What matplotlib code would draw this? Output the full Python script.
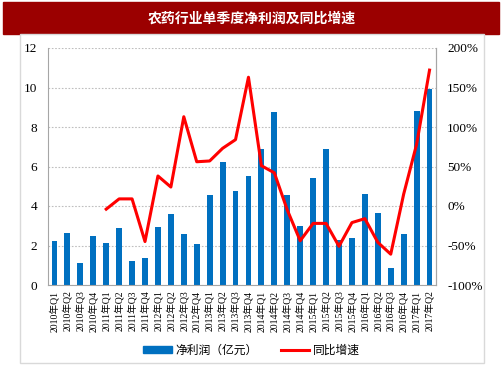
import matplotlib
matplotlib.use("Agg")
import matplotlib.pyplot as plt
from matplotlib.patches import Rectangle
from matplotlib.lines import Line2D
from matplotlib.ticker import FuncFormatter
import numpy as np

# quarters 2010Q1 .. 2017Q2
quarters = [f"{y}年Q{q}" for y in range(2010, 2018) for q in range(1, 5)][:30]

# net profit per quarter (100m yuan)
profit = [2.23, 2.64, 1.10, 2.48, 2.11, 2.87, 1.22, 1.35,
          2.92, 3.58, 2.60, 2.08, 4.56, 6.22, 4.78, 5.53,
          6.90, 8.77, 4.56, 3.01, 5.42, 6.90, 2.28, 2.38,
          4.61, 3.63, 0.85, 2.60, 8.79, 9.92]

# yoy growth (%), no value for 2010
growth = [np.nan] * 4 + [-4, 9, 9, -45,
                         38, 24, 113, 56, 57, 73, 84, 163,
                         51, 42, -5, -44, -22, -22, -51, -21,
                         -16, -46, -61, 15, 78, 172]

cjk = ["Noto Sans CJK SC", "DejaVu Sans"]
serif = ["Liberation Serif", "Noto Sans CJK SC"]

fig = plt.figure(figsize=(5.03, 3.78), dpi=100)

# title bar + outer panel
fig.patches.append(Rectangle((3 / 503, 1 - 34 / 378), 496 / 503, 32 / 378,
                             transform=fig.transFigure, color="#9B0000", zorder=-2))
fig.patches.append(Rectangle((20 / 503, 1 - 363 / 378), 464 / 503, 329 / 378,
                             transform=fig.transFigure, facecolor="white",
                             edgecolor="#D9D9D9", lw=1, zorder=-2))
fig.text(0.5, 1 - 19 / 378, "农药行业单季度净利润及同比增速", color="white",
         fontsize=10, fontweight="bold", family=cjk, ha="center", va="center")

ax = fig.add_axes([48 / 503, 1 - 285 / 378, 388 / 503, 237 / 378])
ax.patch.set_alpha(0)
x = np.arange(len(quarters))
ax.bar(x, profit, width=0.45, color="#0070C0", zorder=2)
ax.set_ylim(0, 12)
ax.set_yticks(range(0, 13, 2))
ax.set_xlim(-0.5, len(quarters) - 0.5)
ax.set_xticks(x)
ax.set_xticklabels(quarters, rotation=90, fontsize=7, family=serif)
ax.yaxis.grid(True, linestyle=(0, (1.5, 1.5)), color="#BFBFBF", lw=0.8)
ax.set_axisbelow(True)
ax.tick_params(axis="y", length=0, labelsize=9.5, pad=8)
ax.tick_params(axis="x", length=0, pad=4)
for lab in ax.get_yticklabels():
    lab.set_family(serif)
ax.spines["top"].set_visible(False)
for s in ["left", "right", "bottom"]:
    ax.spines[s].set_color("#A6A6A6")

ax2 = ax.twinx()
ax2.plot(x, growth, color="#FF0000", lw=2.2, zorder=3)
ax2.set_ylim(-100, 200)
ax2.set_yticks(range(-100, 201, 50))
ax2.yaxis.set_major_formatter(FuncFormatter(lambda v, p: f"{int(v)}%"))
ax2.tick_params(axis="y", length=0, labelsize=9.5, pad=8)
for lab in ax2.get_yticklabels():
    lab.set_family(serif)
ax2.spines["top"].set_visible(False)
ax2.spines["right"].set_color("#A6A6A6")
ax2.spines["left"].set_visible(False)
ax2.spines["bottom"].set_visible(False)

handles = [Rectangle((0, 0), 1, 1, color="#0070C0"),
           Line2D([], [], color="#FF0000", lw=2.2)]
fig.legend(handles, ["净利润（亿元）", "同比增速"], loc="center",
           bbox_to_anchor=(0.5, 1 - 350 / 378), ncol=2, frameon=False,
           prop={"family": cjk, "size": 8.5}, handlelength=2.4,
           handleheight=0.5, columnspacing=2.0, handletextpad=0.3)

fig.savefig("out.png", dpi=100)
